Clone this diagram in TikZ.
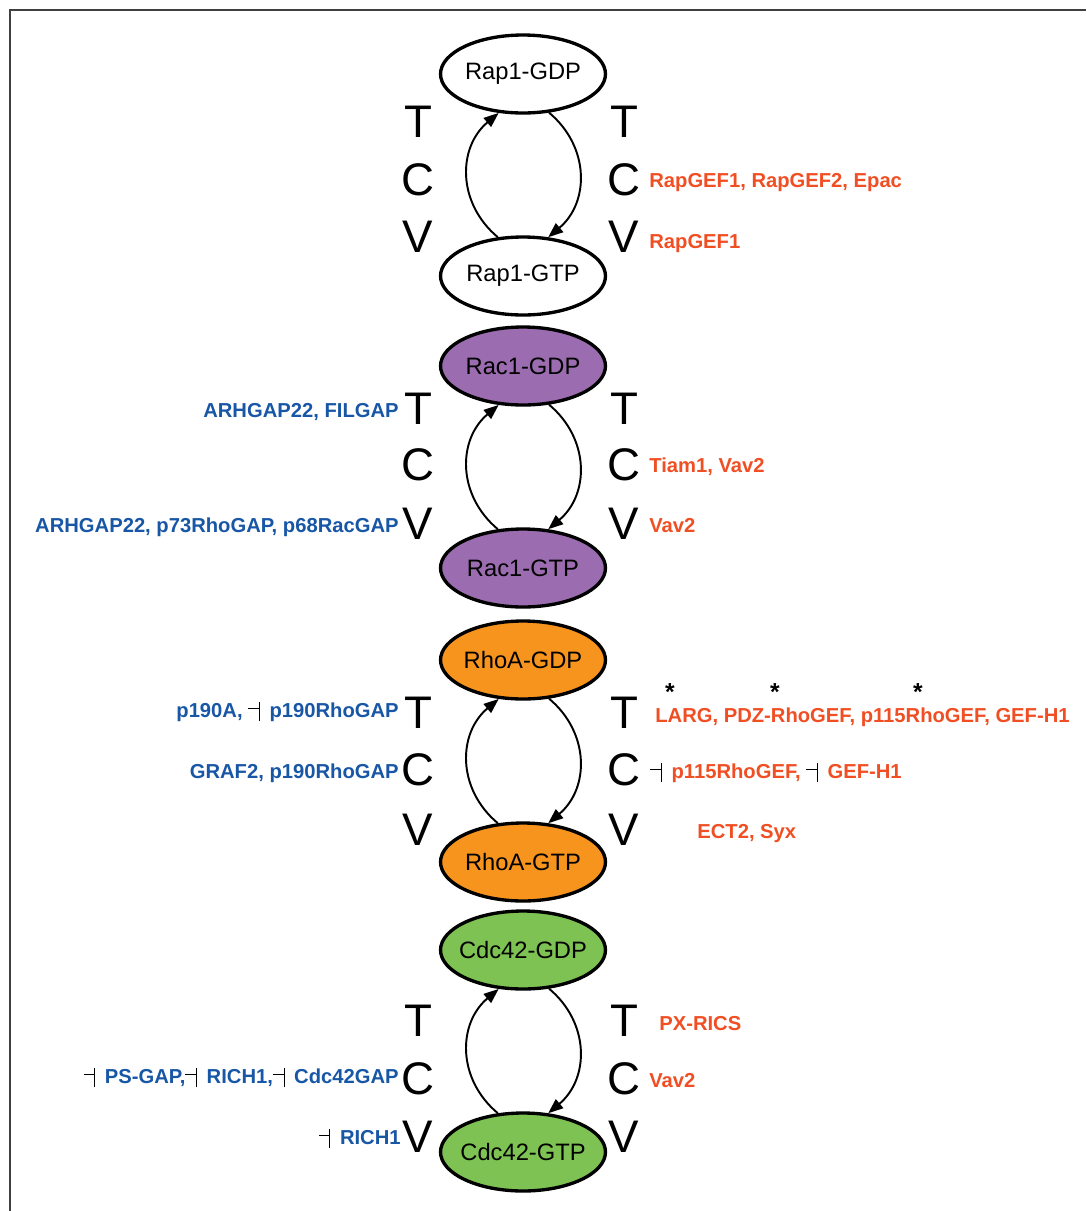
\documentclass[tikz,border=0pt]{standalone}
\usepackage{fontspec}
\setmainfont{Liberation Sans}
\usetikzlibrary{arrows.meta, shapes}

\definecolor{gefred}{RGB}{240,78,35}
\definecolor{gapblue}{RGB}{24,86,166}
\definecolor{racpurple}{RGB}{155,108,175}
\definecolor{rhoorange}{RGB}{247,148,30}
\definecolor{cdcgreen}{RGB}{125,194,82}

% inhibition mark
\newcommand{\inhib}{{\color{black}\rule[4.3pt]{6pt}{0.6pt}\rule[-2.3pt]{0.6pt}{10.8pt}}\hspace{5.5pt}}

\begin{document}
\begin{tikzpicture}
		[
			x=0.02cm, y=0.02cm,
			gtpase/.style={ellipse, draw, line width=1.9pt, minimum width=3.3cm, minimum height=1.56cm, inner sep=0pt, font=\fontsize{13.5}{16}\selectfont},
			rap/.style={gtpase, fill=white},
			rac/.style={gtpase, fill=racpurple},
			rho/.style={gtpase, fill=rhoorange},
			cdc/.style={gtpase, fill=cdcgreen},
			tcv/.style={inner sep=0pt, font=\fontsize{26}{28}\selectfont},
			gef/.style={anchor=base west, inner sep=0pt, text=gefred, font=\bfseries\fontsize{11.5}{13}\selectfont},
			gap/.style={anchor=base east, inner sep=0pt, text=gapblue, font=\bfseries\fontsize{11.5}{13}\selectfont},
			star/.style={inner sep=0pt, font=\bfseries\fontsize{14}{15}\selectfont},
			exchange/.style={line width=1.1pt, -{Triangle[length=8.5pt, width=6.5pt]}, looseness=1.1},
		]

		\useasboundingbox (0,0) rectangle (1086,-1211);
		\draw[line width=0.8pt, black!75] (10,-1211) -- (10,-10) -- (1086,-10);

		% GTPases
		\foreach \style/\name/\txt/\y in
		{
			rap/rapgdp/Rap1-GDP/74,
			rap/rapgtp/Rap1-GTP/276,
			rac/racgdp/Rac1-GDP/366,
			rac/racgtp/Rac1-GTP/568,
			rho/rhogdp/RhoA-GDP/660,
			rho/rhogtp/RhoA-GTP/862,
			cdc/cdcgdp/Cdc42-GDP/950,
			cdc/cdcgtp/Cdc42-GTP/1152
		}
			\node[\style] (\name) at (523,-\y) {\makebox[0pt]{\txt}};

		% T / C / V letters
		\foreach \grp/\t/\c/\v in
		{
			rap/122/180/237,
			rac/409/465/524,
			rho/713/770/830,
			cdc/1021/1079/1137
		}
		{
			\node[tcv] (\grp lt) at (418,-\t) {T};
			\node[tcv] (\grp lc) at (418,-\c) {C};
			\node[tcv] (\grp lv) at (418,-\v) {V};
			\node[tcv] (\grp rt) at (624,-\t) {T};
			\node[tcv] (\grp rc) at (624,-\c) {C};
			\node[tcv] (\grp rv) at (624,-\v) {V};
		}

		% Cycles
		\foreach \grp in {rap, rac, rho, cdc}
		{
			\draw[exchange] (\grp gtp.123) to[out=140, in=220] (\grp gdp.238);
			\draw[exchange] (\grp gdp.-56) to[out=-40, in=40] (\grp gtp.57);
		}

		% GEFs
		\node[gef] (rapc) at (649,-187) {RapGEF1, RapGEF2, Epac};
		\node[gef] (rapv) at (649,-248) {RapGEF1};
		\node[gef] (racc) at (649,-472) {Tiam1, Vav2};
		\node[gef] (racv) at (649,-532) {Vav2};
		\node[gef] (rhot) at (655,-722) {LARG, PDZ-RhoGEF, p115RhoGEF, GEF-H1};
		\node[gef] (rhoc) at (650,-778) {\inhib p115RhoGEF, \inhib GEF-H1};
		\node[gef] (rhov) at (697,-838) {ECT2, Syx};
		\node[gef] (cdct) at (659,-1030) {PX-RICS};
		\node[gef] (cdcc) at (649,-1087) {Vav2};

		\node[star] (s1) at (670,-692) {*};
		\node[star] (s2) at (775,-692) {*};
		\node[star] (s3) at (918,-692) {*};

		% GAPs
		\node[gap] (gracl) at (399,-417) {ARHGAP22, FILGAP};
		\node[gap] (gracv) at (399,-532) {ARHGAP22, p73RhoGAP, p68RacGAP};
		\node[gap] (grhot) at (399,-717) {p190A, \inhib p190RhoGAP};
		\node[gap] (grhoc) at (399,-778) {GRAF2, p190RhoGAP};
		\node[gap] (gcdcc) at (399,-1083) {\inhib PS-GAP,\inhib RICH1,\inhib Cdc42GAP};
		\node[gap] (gcdcv) at (401,-1144) {\inhib RICH1};

		\end{tikzpicture}
\end{document}
